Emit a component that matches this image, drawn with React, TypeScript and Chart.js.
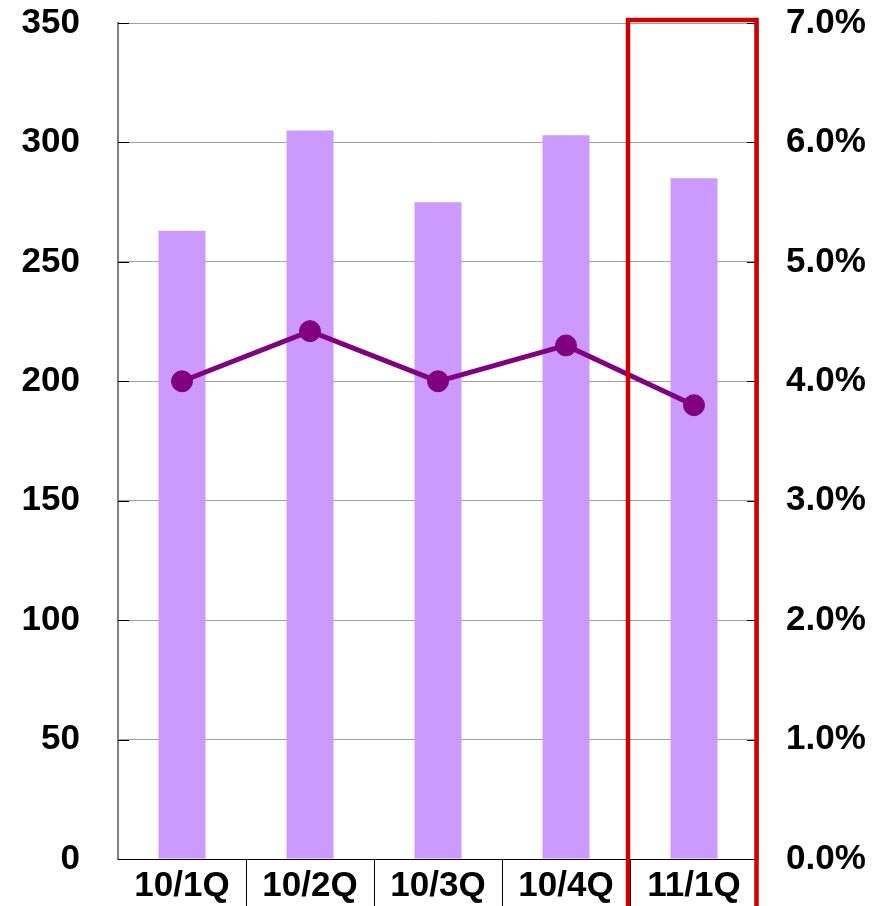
import React, { useEffect, useRef } from "react";
import { Chart, registerables } from "chart.js";

Chart.register(...registerables);

const categories = ["10/1Q", "10/2Q", "10/3Q", "10/4Q", "11/1Q"];
const barValues = [263, 305, 275, 303, 285];
const rateValues = [4.0, 4.42, 4.0, 4.3, 3.8];
const leftAxisMax = 350;
const leftAxisStep = 50;
const rightAxisMax = 7;
const rightAxisStep = 1;
const highlightIndex = 4;

const FONT = "'Liberation Sans', Arial, sans-serif";

const decorPlugin = {
  id: "decor",
  afterDraw(chart: any) {
    const { ctx, chartArea, scales } = chart;
    const x = scales.x;
    const y = scales.y;
    const y1 = scales.y1;
    const half = (x.getPixelForValue(1) - x.getPixelForValue(0)) / 2;
    ctx.save();
    ctx.strokeStyle = "#000000";
    ctx.lineWidth = 1;
    for (let i = 1; i < categories.length; i++) {
      const px = Math.round(x.getPixelForValue(i) - half) + 0.5;
      ctx.beginPath();
      ctx.moveTo(px, chartArea.bottom);
      ctx.lineTo(px, chart.height);
      ctx.stroke();
    }
    y.ticks.forEach((_t: any, i: number) => {
      const py = Math.round(y.getPixelForTick(i)) + 0.5;
      ctx.beginPath();
      ctx.moveTo(chartArea.left, py);
      ctx.lineTo(chartArea.left + 11, py);
      ctx.stroke();
    });
    y1.ticks.forEach((_t: any, i: number) => {
      const py = Math.round(y1.getPixelForTick(i)) + 0.5;
      ctx.beginPath();
      ctx.moveTo(chartArea.right - 11, py);
      ctx.lineTo(chartArea.right, py);
      ctx.stroke();
    });
    const cx = x.getPixelForValue(highlightIndex);
    const l = cx - half - 2;
    const r = cx + half - 1.5;
    const top = chartArea.top - 3;
    ctx.strokeStyle = "#CC0000";
    ctx.lineWidth = 4.5;
    ctx.beginPath();
    ctx.moveTo(l, chart.height + 5);
    ctx.lineTo(l, top);
    ctx.lineTo(r, top);
    ctx.lineTo(r, chart.height + 5);
    ctx.stroke();
    ctx.restore();
  },
};

export default function App() {
  const ref = useRef<HTMLCanvasElement | null>(null);
  useEffect(() => {
    document.body.style.margin = "0";
    const canvas = ref.current;
    if (!canvas) return;
    const tickFont = { family: FONT, size: 35, weight: "bold" as const };
    const chart = new Chart(canvas, {
      type: "bar",
      data: {
        labels: categories,
        datasets: [
          {
            type: "line",
            data: rateValues,
            yAxisID: "y1",
            borderColor: "#800080",
            backgroundColor: "#800080",
            borderWidth: 5,
            pointRadius: 10.5,
            pointBorderWidth: 1,
            pointBackgroundColor: "#800080",
            pointBorderColor: "#800080",
            tension: 0,
          } as any,
          {
            type: "bar",
            data: barValues,
            yAxisID: "y",
            backgroundColor: "#CC99FF",
            borderWidth: 0,
            categoryPercentage: 1,
            barPercentage: 0.367,
          },
        ],
      },
      options: {
        animation: false,
        responsive: false,
        maintainAspectRatio: false,
        layout: { padding: { top: 23, left: 0, right: 0, bottom: 0 } },
        plugins: { legend: { display: false }, tooltip: { enabled: false } },
        scales: {
          x: {
            offset: true,
            grid: { display: false, drawTicks: false },
            border: { display: true, color: "#000000", width: 1 },
            ticks: { font: tickFont, color: "#000000", padding: 6, maxRotation: 0, autoSkip: false },
            afterFit: (s: any) => {
              s.height = 47;
              s.paddingLeft = 0;
              s.paddingRight = 0;
            },
          },
          y: {
            position: "left",
            min: 0,
            max: leftAxisMax,
            grid: { color: "#A0A0A0", lineWidth: 1, drawTicks: false },
            border: { display: true, color: "#808080", width: 2 },
            ticks: { stepSize: leftAxisStep, font: tickFont, color: "#000000", padding: 38 },
            afterFit: (s: any) => {
              s.width = 118;
              s.paddingTop = 0;
              s.paddingBottom = 0;
            },
          },
          y1: {
            position: "right",
            min: 0,
            max: rightAxisMax,
            grid: { drawOnChartArea: false, drawTicks: false },
            border: { display: true, color: "#808080", width: 2 },
            ticks: {
              stepSize: rightAxisStep,
              font: tickFont,
              color: "#000000",
              padding: 28,
              callback: (v: any) => Number(v).toFixed(1) + "%",
            },
            afterFit: (s: any) => {
              s.width = 123;
              s.paddingTop = 0;
              s.paddingBottom = 0;
            },
          },
        },
      },
      plugins: [decorPlugin],
    });
    return () => chart.destroy();
  }, []);
  return (
    <div style={{ width: 881, height: 906, position: "relative" }}>
      <canvas ref={ref} width={881} height={906} style={{ width: 881, height: 906, display: "block" }} />
    </div>
  );
}
